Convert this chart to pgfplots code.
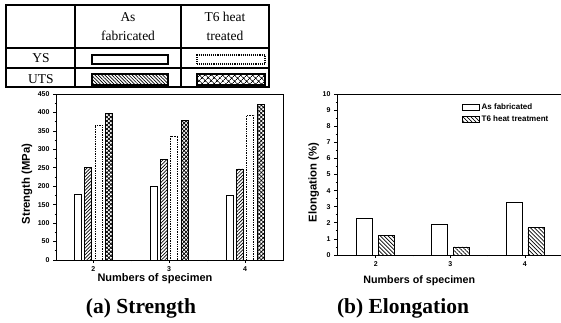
\documentclass[border=0pt]{standalone}
\usepackage{fontspec}
\setmainfont{Liberation Serif}
\setsansfont{Liberation Sans}
\usepackage{pgfplots}
\pgfplotsset{compat=1.18}
\usetikzlibrary{patterns,patterns.meta}

\begin{document}
\begin{tikzpicture}
\useasboundingbox (0pt,0pt) rectangle (561pt,323pt);
% ---- legend table ----
\draw[line width=1.4pt] (6pt,236pt) rectangle (269pt,318pt);
\draw[line width=1.2pt] (6pt,275pt)--(269pt,275pt) (6pt,255pt)--(269pt,255pt) (75pt,236pt)--(75pt,318pt) (181pt,236pt)--(181pt,318pt);
\begin{scope}[every node/.style={font=\fontsize{13.5}{14}\selectfont, inner sep=0pt}]
\node[anchor=base] at (128pt,301pt) {As};
\node[anchor=base] at (128pt,282pt) {fabricated};
\node[anchor=base] at (225pt,301pt) {T6 heat};
\node[anchor=base] at (225pt,282pt) {treated};
\node[anchor=base] at (41pt,260pt) {YS};
\node[anchor=base] at (41pt,239.5pt) {UTS};
\end{scope}
\draw[line width=1.1pt, fill=white] (92pt,259pt) rectangle (168pt,268pt);
\draw[line width=1.1pt, densely dotted, fill=white] (197pt,259pt) rectangle (265pt,268pt);
\draw[line width=1.1pt, pattern={Lines[angle=-45,distance=2.4pt,line width=0.7pt]}] (92pt,238pt) rectangle (168pt,249pt);
\draw[line width=1.1pt, pattern={Hatch[angle=45,distance=4pt,line width=0.7pt]}] (197pt,238pt) rectangle (265pt,249pt);

\pgfplotsset{common/.style={
  scale only axis,
  ybar,
  axis line style={line width=0.9pt},
  tick align=outside,
  major tick length=3pt,
  minor tick length=1.5pt,
  every tick/.style={black, line width=0.7pt},
  xtick={2,3,4},
  minor x tick num=1,
  minor y tick num=1,
  xtick pos=bottom,
  ytick pos=left,
  ticklabel style={font=\sffamily\bfseries\fontsize{7}{7}\selectfont},
  /pgf/number format/assume math mode=true,
  label style={font=\sffamily\bfseries\fontsize{11.3}{11}\selectfont},
  xlabel={Numbers of specimen},
}}

% ---- (a) Strength ----
\begin{axis}[common,
  at={(56pt,63pt)}, anchor=south west,
  width=227pt, height=166pt,
  xmin=1.51, xmax=4.5, ymin=0, ymax=450,
  ytick={0,50,...,450},
  bar width=7pt,
  ylabel={Strength (MPa)},
  xlabel style={at={(axis description cs:0.436,-0.114)}, anchor=center, font=\sffamily\bfseries\fontsize{11}{11}\selectfont},
  ylabel style={at={(axis description cs:-0.128,0.458)}, anchor=center},
]
\addplot[bar shift=-15.5pt, draw=black, line width=0.7pt, fill=white]
  coordinates {(2,178) (3,199) (4,176)};
\addplot[bar shift=-5.2pt, draw=black, line width=0.7pt, pattern={Lines[angle=45,distance=2.4pt,line width=0.7pt]}]
  coordinates {(2,251) (3,273) (4,247)};
\addplot[bar shift=5.2pt, draw=black, line width=0.7pt, densely dotted, fill=white]
  coordinates {(2,366) (3,336) (4,393)};
\addplot[bar shift=15.5pt, draw=black, line width=0.7pt, pattern={Hatch[angle=45,distance=2.8pt,line width=0.7pt]}]
  coordinates {(2,398) (3,379) (4,422)};
\end{axis}

% ---- (b) Elongation ----
\begin{axis}[common,
  at={(337pt,68pt)}, anchor=south west,
  width=225pt, height=161pt,
  xmin=1.48, xmax=4.497, ymin=0, ymax=10,
  ytick={0,1,...,10},
  bar width=16pt,
  ylabel={Elongation (\%)},
  xlabel style={at={(axis description cs:0.366,-0.161)}, anchor=center, font=\sffamily\bfseries\fontsize{10.7}{11}\selectfont},
  ylabel style={at={(axis description cs:-0.103,0.45)}, anchor=center},
  legend image code/.code={\draw[#1, solid] (0pt,-3pt) rectangle (17pt,3pt);},
  legend style={draw=none, fill=none, at={(0.55,0.96)}, anchor=north west,
    inner sep=1pt, row sep=1pt, font=\sffamily\bfseries\fontsize{8}{9}\selectfont},
  legend cell align=left,
]
\addplot[bar shift=-11pt, draw=black, line width=0.7pt, fill=white]
  coordinates {(2,2.25) (3,1.9) (4,3.3)};
\addlegendentry{As fabricated}
\addplot[bar shift=11pt, draw=black, line width=0.7pt, pattern={Lines[angle=-45,distance=2.8pt,line width=0.7pt]}]
  coordinates {(2,1.2) (3,0.5) (4,1.7)};
\addlegendentry{T6 heat treatment}
\end{axis}

% ---- panel titles ----
\node[font=\bfseries\fontsize{21.5}{22}\selectfont] at (141pt,15pt) {(a) Strength};
\node[font=\bfseries\fontsize{21.5}{22}\selectfont] at (403pt,15pt) {(b) Elongation};
\end{tikzpicture}
\end{document}
